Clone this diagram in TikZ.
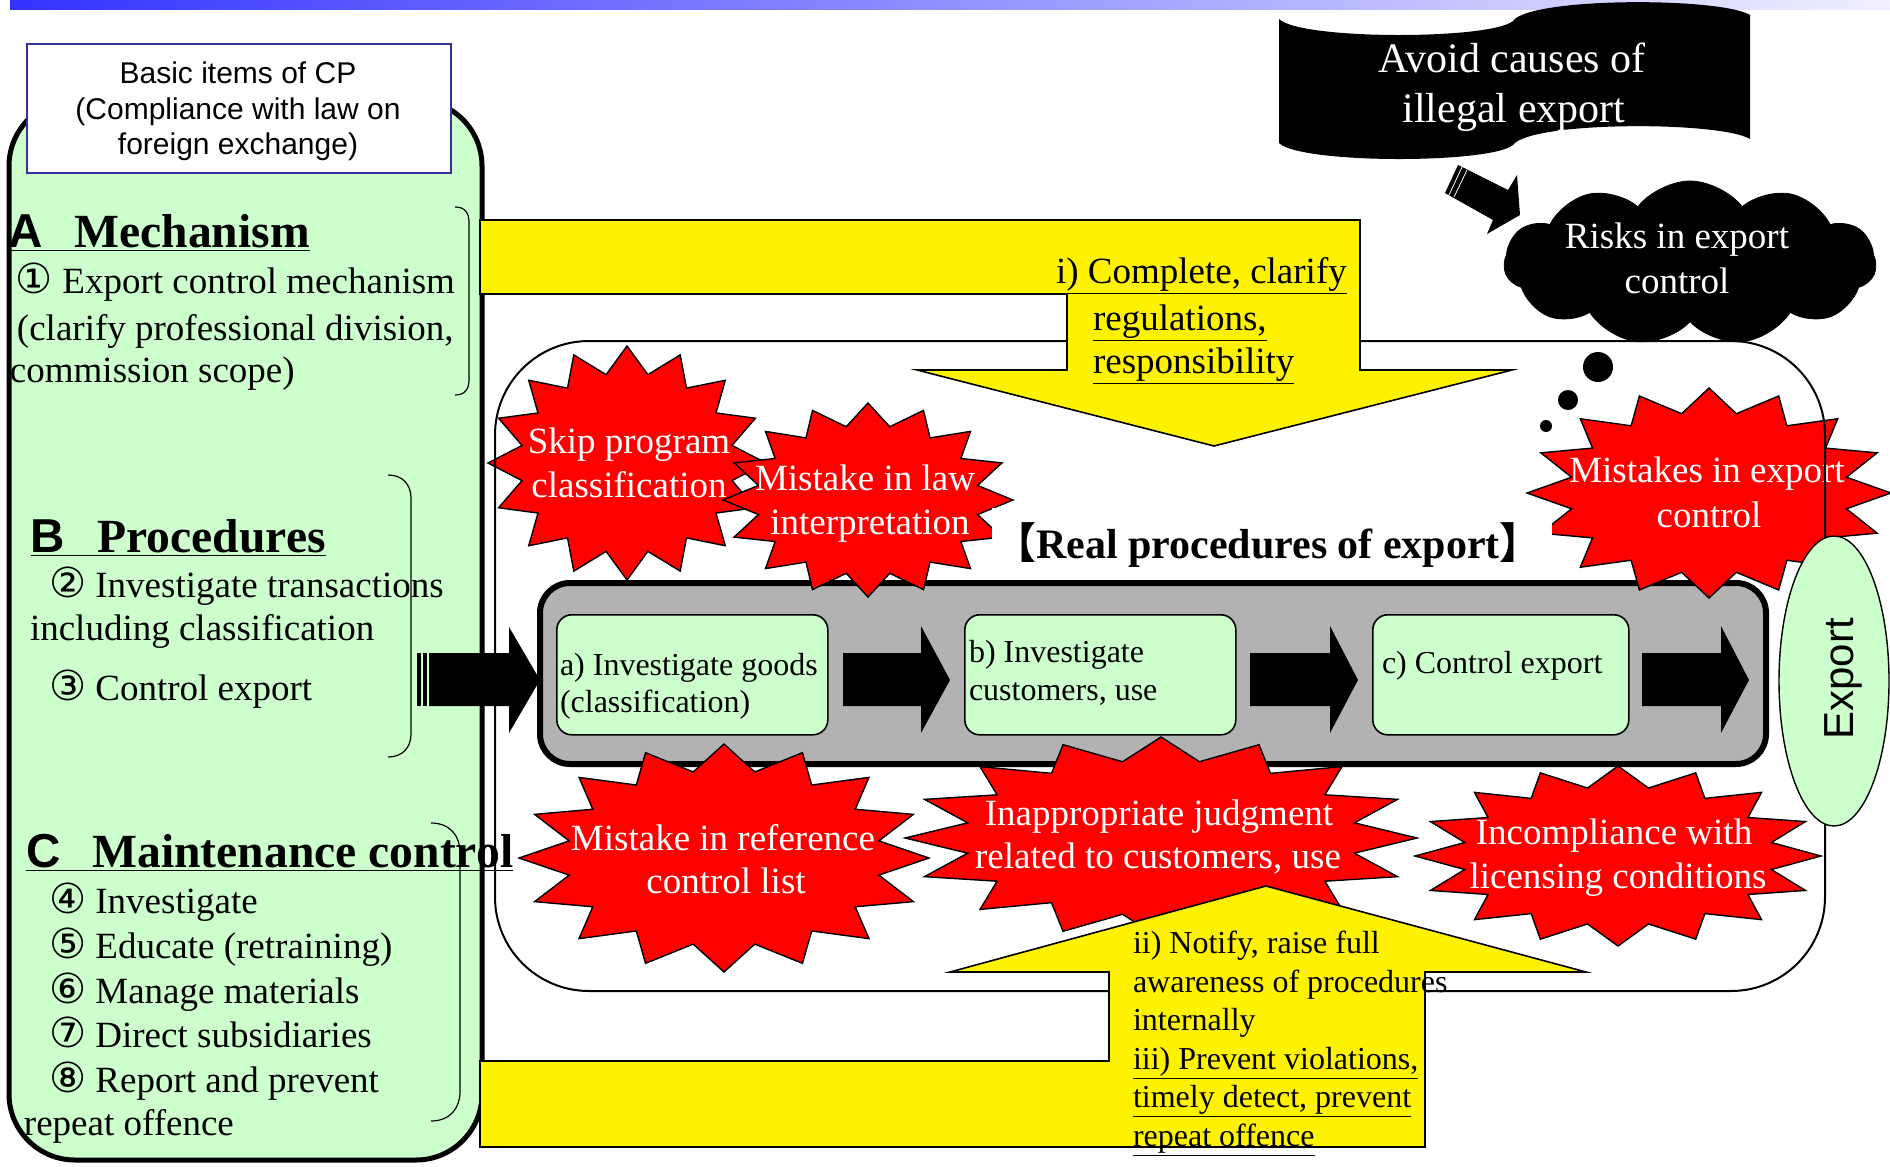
\documentclass[tikz,border=0pt]{standalone}
\usepackage{fontspec}
\setmainfont{Liberation Serif}
\setsansfont{Liberation Sans}
\newfontfamily\circfont[Scale=1.12]{DejaVu Sans}
\newfontfamily\cjkfont{Noto Sans CJK JP}
\usetikzlibrary{shapes.geometric,shapes.symbols}
\definecolor{paleg}{HTML}{CCFFCC}
\definecolor{navyb}{HTML}{333399}
\definecolor{grayc}{HTML}{B2B2B2}
\definecolor{bluebar}{HTML}{3333FF}
\definecolor{bluepale}{HTML}{F0F0FF}
\newcommand\myul[1]{\underline{#1\vphantom{y}}}
\newcommand\cn[1]{{\circfont #1}}
\newcommand\seal[4]{\draw[sealsty] plot[variable=\k, samples at={0,1,...,31}] ({#1+#3*(1-0.23*mod(\k,2))*sin(\k*11.25)},{#2-#4*(1-0.23*mod(\k,2))*cos(\k*11.25)}) -- cycle;}
\begin{document}
\begin{tikzpicture}[x=0.5pt,y=-0.5pt,
  txt/.style={inner sep=0pt, outer sep=0pt},
  body/.style={txt, anchor=base west, font=\fontsize{18.5}{22}\selectfont},
  headsty/.style={txt, anchor=base west, font=\fontsize{23.8}{28}\selectfont\bfseries},
  smalltxt/.style={txt, anchor=base west, font=\fontsize{16}{19}\selectfont},
  startxt/.style={txt, anchor=base, text=white, font=\fontsize{18.5}{22}\selectfont},
  sealsty/.style={fill=red, draw=black, line width=0.7pt, line join=miter},
  procbox/.style={draw=black, fill=paleg, line width=0.8pt, rounded corners=7.5pt, anchor=north west, inner sep=0pt, minimum height=60pt},
  yarrow/.style={fill=yellow, draw=black, line width=0.8pt, line join=miter},
  brack/.style={draw=black, line width=0.6pt},
]
\useasboundingbox (0,0) rectangle (1890,1167);
% top bar
\shade[left color=bluebar, right color=bluepale] (10,0) rectangle (1890,9);
% left panel
\draw[fill=paleg, line width=2.5pt, rounded corners=33pt] (9,100) rectangle (482,1160);
\node[draw=navyb, fill=white, line width=1pt, minimum width=212pt, minimum height=64.5pt, anchor=north west, inner sep=0pt] (basicbox) at (26,43) {};
\node[txt, anchor=base, font=\sffamily\fontsize{15}{18}\selectfont] (bas1) at (238,83) {Basic items of CP};
\node[txt, anchor=base, font=\sffamily\fontsize{15}{18}\selectfont] (bas2) at (238,119) {(Compliance with law on};
\node[txt, anchor=base, font=\sffamily\fontsize{15}{18}\selectfont] (bas3) at (238,154) {foreign exchange)};
% headings and items
\node[headsty] (hA) at (9,247) {\underline{\sffamily A\hspace{15.5pt}\rmfamily Mechanism}};
\node[body] (l1) at (16,293) {\cn{①} Export control mechanism};
\node[body] (l2) at (17,340) {(clarify professional division,};
\node[body] (l3) at (10,382) {commission scope)};
\node[headsty] (hB) at (31,552) {\underline{\sffamily B\hspace{16pt}\rmfamily Procedures}};
\node[body] (l4) at (49,597) {\cn{②} Investigate transactions};
\node[body] (l5) at (30,640) {including classification};
\node[body] (l6) at (49,700) {\cn{③} Control export};
\node[headsty] (hC) at (26,867) {\underline{\sffamily C\hspace{16pt}\rmfamily Maintenance control}};
\node[body] (l7) at (49,913) {\cn{④} Investigate};
\node[body] (l8) at (49,958) {\cn{⑤} Educate (retraining)};
\node[body] (l9) at (49,1003) {\cn{⑥} Manage materials};
\node[body] (l10) at (49,1047) {\cn{⑦} Direct subsidiaries};
\node[body] (l11) at (49,1092) {\cn{⑧} Report and prevent};
\node[body] (l12) at (24,1135) {repeat offence};
% brackets
\draw[brack] (455,207) .. controls (465,207) and (469,213) .. (469,222) -- (469,380) .. controls (469,389) and (465,395) .. (455,395);
\draw[brack] (388,475) .. controls (403,475) and (411,485) .. (411,498) -- (411,734) .. controls (411,747) and (403,757) .. (388,757);
\draw[brack] (431,823) .. controls (450,823) and (460,836) .. (460,852) -- (460,1092) .. controls (460,1108) and (450,1121) .. (431,1121);
% process container
\draw[fill=grayc, line width=3pt, rounded corners=15pt] (540,583) rectangle (1766,764);
\node[procbox, minimum width=135.5pt] (pa) at (556,614) {};
\node[procbox, minimum width=135.5pt] (pb) at (964,614) {};
\node[procbox, minimum width=128pt] (pc) at (1372,614) {};
\node[smalltxt] (ta1) at (560,675) {a) Investigate goods};
\node[smalltxt] (ta2) at (560,712) {(classification)};
\node[smalltxt] (tb1) at (969,662) {b) Investigate};
\node[smalltxt] (tb2) at (969,700) {customers, use};
\node[smalltxt] (tc1) at (1382,673) {c) Control export};
% block arrows
\fill[black] (429,653) -- (509,653) -- (509,627) -- (540,680) -- (509,733) -- (509,706) -- (429,706) -- cycle;
\fill[black] (417,653) rectangle (421,706);
\fill[black] (423,653) rectangle (427,706);
\fill[black] (843,653) -- (921,653) -- (921,626) -- (950,680) -- (921,733) -- (921,706) -- (843,706) -- cycle;
\fill[black] (1250,653) -- (1330,653) -- (1330,626) -- (1358,680) -- (1330,733) -- (1330,706) -- (1250,706) -- cycle;
\fill[black] (1642,653) -- (1721,653) -- (1721,626) -- (1749,680) -- (1721,733) -- (1721,706) -- (1642,706) -- cycle;
% stars
\seal{627}{463}{139}{117}
\seal{868}{500}{145}{97}
\seal{1709}{493}{182}{105}
\seal{724}{858}{205}{114}
\seal{1161}{838}{256}{101}
\seal{1618}{856}{203}{90}
\node[startxt] (s1a) at (629,453) {Skip program};
\node[startxt] (s1b) at (629,497) {classification};
\node[startxt] (s2a) at (865,490) {Mistake in law};
\node[startxt] (s2b) at (870,534) {interpretation};
\node[startxt] (s3a) at (1707,482) {Mistakes in export};
\node[startxt] (s3b) at (1709,527) {control};
\node[startxt] (s4a) at (723,850) {Mistake in reference};
\node[startxt] (s4b) at (726,893) {control list};
\node[startxt] (s5a) at (1159,825) {Inappropriate judgment};
\node[startxt] (s5b) at (1158,868) {related to customers, use};
\node[startxt] (s6a) at (1614,844) {Incompliance with};
\node[startxt] (s6b) at (1618,888) {licensing conditions};
% title of real procedures
\fill[white] (992,508) rectangle (1552,578);
\node[txt, anchor=base, font=\fontsize{21}{25}\selectfont\bfseries] (real) at (1268,558) {{\cjkfont 【}Real procedures of export{\cjkfont 】}};
% white rounded frame
\draw[line width=1pt, rounded corners=47pt] (495,341) rectangle (1825,991);
% yellow arrows
\draw[yarrow] (480,220) -- (1360,220) -- (1360,370) -- (1512,370) -- (1214,446) -- (917,370) -- (1067,370) -- (1067,294) -- (480,294) -- cycle;
\draw[yarrow] (480,1147) -- (1425,1147) -- (1425,972) -- (1586,972) -- (1266,886) -- (950,972) -- (1109,972) -- (1109,1061) -- (480,1061) -- cycle;
\node[body] (y1) at (1056,283) {\myul{i) Complete, clarify}};
\node[body] (y2) at (1093,330) {\myul{regulations,}};
\node[body] (y3) at (1093,373) {\myul{responsibility}};
\node[smalltxt] (z1) at (1133,953) {ii) Notify, raise full};
\node[smalltxt] (z2) at (1133,992) {awareness of procedures};
\node[smalltxt] (z3) at (1133,1030) {internally};
\node[smalltxt] (z4) at (1133,1069) {\myul{iii) Prevent violations,}};
\node[smalltxt] (z5) at (1133,1107) {\myul{timely detect, prevent}};
\node[smalltxt] (z6) at (1133,1146) {\myul{repeat offence}};
% export ellipse
\node[ellipse, draw=black, fill=paleg, line width=0.7pt, minimum width=55pt, minimum height=145pt, inner sep=0pt] (expell) at (1834,681) {};
\node[txt, rotate=90, font=\sffamily\fontsize{21}{25}\selectfont] (exptxt) at (1843,679) {Export};
% banner
\fill[black] (1279,19) .. controls (1300,40) and (1490,40) .. (1513,21) .. controls (1530,-3) and (1720,-3) .. (1750,15) -- (1750,139) .. controls (1720,121) and (1530,121) .. (1513,145) .. controls (1490,164) and (1300,164) .. (1279,143) -- cycle;
\node[txt, anchor=base, text=white, font=\fontsize{21}{25}\selectfont] (av1) at (1512,72) {Avoid causes of};
\node[txt, anchor=base, text=white, font=\fontsize{21}{25}\selectfont] (av2) at (1514,122) {illegal export};
% striped arrow
\fill[black] (1458,165) -- (1508,190) -- (1517,175) -- (1520,215) -- (1487,234) -- (1493,220) -- (1445,193) -- cycle;
\draw[white, line width=0.4pt] (1462,167) -- (1449,195);
\draw[white, line width=0.4pt] (1467,170) -- (1454,197);
% cloud
\node[cloud, cloud puffs=11, cloud puff arc=105, cloud ignores aspect, fill=black, draw=black, minimum width=186pt, minimum height=82pt, inner sep=0pt] (cloud) at (1690,263) {};
\node[startxt] (rk1) at (1677,248) {Risks in export};
\node[startxt] (rk2) at (1677,293) {control};
\fill[black] (1598,367) circle[radius=15];
\fill[black] (1568,400) circle[radius=10];
\fill[black] (1546,426) circle[radius=6];
\end{tikzpicture}
\end{document}
